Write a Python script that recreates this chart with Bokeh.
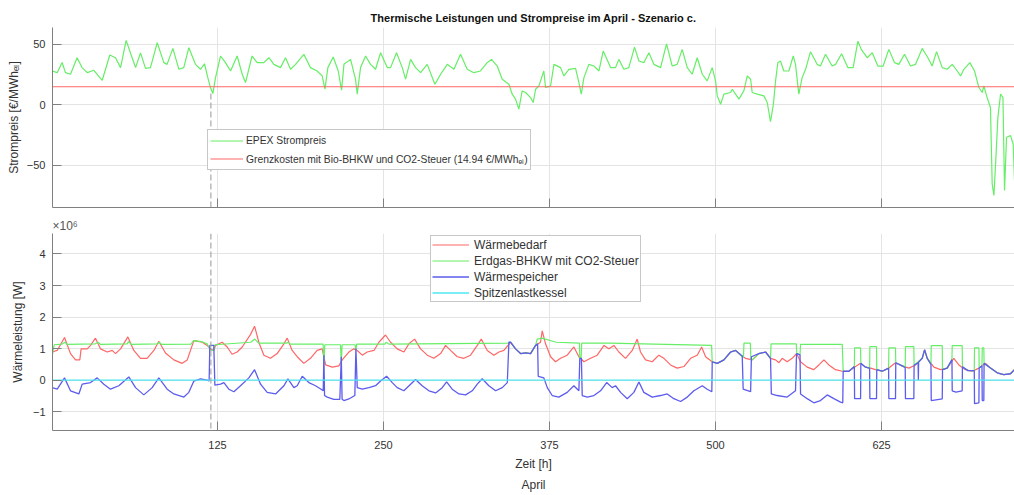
from bokeh.plotting import figure
from bokeh.models import (Range1d, FixedTicker, Legend, LegendItem, Span, Title,
                          CustomJSTickFormatter)
from bokeh.layouts import column
from bokeh.embed import file_html
from bokeh.resources import INLINE

FONT = "Liberation Sans"

# ---------------- data ----------------
title_text = "Thermische Leistungen und Strompreise im April - Szenario c."
x_ticks = [125, 250, 375, 500, 625]
price_ticks = [-50, 0, 50]
heat_ticks = [-1, 0, 1, 2, 3, 4]
marker_hour = 120
marker_top_value = 12
grenzkosten = 14.94

# EPEX spot price [EUR/MWh_el]
price_h = [0.5, 4.3, 8, 10.5, 14.3, 19.3, 23, 26.9, 31.9, 38.2, 43.9, 48.2, 52, 56.2, 60.7, 63.3, 67, 70.8,
           74.5, 79.6, 84.6, 87, 91.4, 95.9, 99.6, 103.4, 108.4, 112.2, 115.2, 117.7, 119.7, 121.5, 123.5,
           127.3, 131, 134.8, 139.8, 143.6, 146.1, 151, 154.9, 159.9, 163.7, 167.4, 172.4, 176.2, 180,
           183.8, 190, 195, 200, 203.8, 205.9, 208.1, 212.1, 215.9, 218.4, 220.2, 225.2, 228.9, 230.2,
           232.7, 236.5, 240.2, 244, 247.8, 252.8, 255.3, 259.8, 264.1, 266.6, 270.4, 274.1, 277.9, 282.9,
           288.7, 293, 298, 303, 308, 313, 318, 323, 328, 331.3, 335.6, 339.4, 344.4, 346.9, 349.4, 351.9,
           354.4, 357, 360.7, 362.7, 364.5, 367, 370.7, 372, 375.8, 378.3, 383.3, 385.8, 389.6, 394.6,
           397.1, 398.9, 400.9, 404.6, 408.4, 412.2, 415.4, 421, 424.7, 427.2, 431, 434.7, 439, 442.3,
           446, 449.8, 453.6, 458.6, 463.1, 467.4, 471.1, 474.9, 478.7, 482.4, 486.2, 490, 493.7, 497.5,
           500, 501.3, 503.8, 506.3, 511.3, 512.6, 517.6, 521.3, 523.9, 526.4, 527.6, 531.4, 536.4, 538.9,
           541.4, 543.6, 545.2, 546.9, 548.9, 551.4, 555.2, 558.5, 560.2, 562.7, 565.2, 567.8, 571.5,
           576.5, 579, 582.8, 587.8, 590.4, 594.9, 599.6, 603.6, 607.2, 609.7, 614.2, 618, 622.2, 626.2,
           630.5, 634.8, 638, 642.3, 646.8, 650.6, 655.6, 659.9, 663.1, 666.4, 670.7, 674.4, 678.2, 682,
           684.5, 687, 691.5, 695, 698.3, 700.8, 702, 704.5, 707, 708.3, 709.6, 710.8, 712.6, 714.6, 716.4,
           717.6, 719.1, 722.1, 724.1, 725.1]
price_val = [28, 26.6, 35, 26.6, 25.3, 39, 30.8, 26.6, 28.6, 20.3, 41.2, 39, 30.8, 53.3, 39, 30.8, 43, 30.2,
             30.8, 51.4, 34.9, 33.5, 46.7, 29.4, 30.8, 47.3, 33.5, 29.4, 34, 22.5, 14.3, 9.3, 22.5,
             40.4, 34.9, 28, 40.4, 25.3, 18.4, 40.4, 34.9, 34.9, 39, 33.5, 30.8, 39, 29.4,
             33.5, 41.8, 30.8, 28, 23.9, 12.9, 30.8, 39.6, 28, 12.1, 33.5, 37.6, 21.2, 8.8,
             30.8, 40.4, 33.5, 29.4, 43.1, 30.8, 30.8, 43.1, 30.8, 21.2, 37.6, 30.8, 26.6, 33.5,
             17, 25.3, 33.5, 29.4, 41.8, 29.4, 26.6, 28, 34.9, 37.6, 32.1, 21.2, 17, 8.8, 4.7, -3.6,
             11.5, 10.2, 6, 1.9, 12.9, 15.7, 28, 14.3, 15.7, 33.5, 30.8, 23.9, 29.4, 30.2,
             18.4, 8.8, 22.5, 33.5, 32.1, 28, 44.5, 30.8, 30.8, 37.6, 29.4, 30.8, 47.8, 36.3,
             34.9, 43.1, 33.5, 30.8, 50.5, 32.1, 33.5, 45.9, 30.8, 25.3, 39, 25.3, 19.8, 30.8,
             19.8, 7.4, 0.5, 8.8, 10.2, 12.9, 4.7, 11.5, 23.9, 21.2, 10.2, 8.8, 7.4, 1.9,
             -14, 1, 19.8, 34.9, 36.3, 28, 28, 40.4, 33.5, 8.8, 22.5, 29.4, 44,
             33.5, 32.1, 41.8, 32.1, 33.5, 42.3, 30.8, 30.8, 52.7, 45.9, 39, 43.1, 32.1, 32.1,
             45.9, 34.9, 33.5, 41.8, 32.1, 33.5, 46.7, 39, 32.1, 44, 30.8, 29.4, 33.5, 28,
             23.9, 29.4, 34.9, 28, 14.3, 10.2, 15.7, 6, -2.2, -65.4, -75, -50.3, -10.4, 8.8, 6,
             -70.9, -26.9, -25.5, -32.4, -62.6]

# heat demand [MW]
demand_h = [0, 0.5, 4.3, 9.8, 14.3, 18.1, 21.3, 22.3, 26.9, 29.4, 33.1, 36.9, 41.9, 45.7, 48.2, 52, 57.5,
            62, 67, 72, 77.1, 80.8, 85.8, 92.1, 98.4, 102.2, 107.2, 113.5, 117.2, 119.7, 122.2, 123.5,
            128.5, 132.3, 136, 139.8, 143.6, 149.9, 152.9, 156.1, 159.9, 164.9, 169.9, 175, 177.5, 181.2,
            185, 190, 195, 200, 203.8, 206.4, 211.4, 216.4, 218.9, 223.9, 227.7, 230.2, 234, 237.7, 242.8,
            246.5, 251.5, 255.3, 260.3, 265.3, 269.1, 273.4, 277.9, 282.9, 287.9, 293, 296.7, 300.5,
            305.5, 310.5, 315.5, 320.6, 323.6, 328.1, 333.1, 336.9, 340.6, 345.7, 349.4, 353.2, 357,
            360.7, 364.5, 368.2, 369.5, 372, 375.8, 379.5, 383.3, 388.3, 393.3, 397.1, 400.9, 405.9,
            410.9, 416, 419.7, 423.5, 427.2, 432.2, 437.3, 441, 443.5, 447.3, 452.3, 457.3, 461.1, 466.1,
            471.1, 476.2, 481.2, 486.2, 489.5, 492.5, 497.5, 501.3, 506.3, 511.3, 515.1, 518.8, 522.6,
            527.6, 532.6, 537.7, 541.4, 545.2, 547.7, 550.2, 553.9, 557.7, 561, 564, 569, 574, 577.8,
            581.6, 585.3, 590.3, 595.4, 600.4, 605.4, 609.2, 612.9, 616.7, 620.5, 625.5, 630.5, 635.5,
            640.5, 645.6, 650.6, 655.6, 657.4, 659.4, 664.4, 669.4, 674.4, 679.4, 683.2, 688.2, 693.3,
            698.3, 703.3, 707.1, 712.1, 717.1, 722.1, 725.1]
demand_mw = [2.17, 0.89, 0.94, 1.35, 0.84, 0.64, 0.64, 0.99, 0.99, 1.1, 1.33, 0.99, 0.89, 0.94, 0.84, 0.99, 1.37,
             0.94, 0.69, 0.69, 0.94, 1.23, 0.86, 0.64, 0.53, 0.64, 1.25, 1.2, 1.1, 0.99, 0.94, 1.1,
             1.2, 1.05, 0.82, 0.89, 1.05, 1.45, 1.71, 1.2, 0.79, 0.69, 0.84, 1.15, 1.33, 0.94,
             0.74, 0.53, 0.69, 0.94, 0.99, 0.48, 0.41, 0.45, 0.64, 0.89, 0.99, 0.94, 0.79, 0.89, 0.94,
             1.2, 1.43, 1.2, 0.99, 0.89, 1.15, 1.3, 0.99, 0.79, 0.69, 0.84, 1.1, 0.94,
             0.74, 0.69, 0.79, 1.1, 1.3, 0.94, 0.79, 0.89, 0.94, 1.2, 0.99, 0.84, 0.86,
             0.84, 1.1, 1.2, 1.56, 1.15, 0.74, 0.58, 0.69, 0.79, 1.05, 0.74, 0.58, 0.69,
             0.79, 1.1, 0.99, 1.1, 0.89, 0.69, 0.94, 1.3, 0.89, 0.64, 0.58, 0.79, 0.69, 0.48,
             0.38, 0.43, 0.69, 0.79, 1.05, 0.74, 0.58, 0.53, 0.64, 0.89, 0.94, 0.79, 0.69,
             0.64, 0.84, 0.89, 0.69, 0.64, 0.55, 0.69, 0.58, 0.69, 0.84, 0.58, 0.41, 0.33, 0.48,
             0.64, 0.48, 0.33, 0.28, 0.28, 0.43, 0.53, 0.41, 0.38, 0.33, 0.28, 0.38, 0.55,
             0.45, 0.38, 0.48, 0.69, 0.96, 0.69, 0.41, 0.33, 0.38, 0.69, 0.48, 0.33, 0.28,
             0.38, 0.53, 0.38, 0.23, 0.17, 0.2, 0.33]

# natural-gas CHP with CO2 tax [MW]
chp_h = [0, 2, 8, 10, 12, 33, 35, 37, 57, 58, 60, 80, 81, 83, 105, 107, 113, 117.2, 119, 120, 122.2, 123,
         150, 153, 156, 177, 178, 180, 204.5, 205.1, 205.8, 217.6, 218.2, 218.8, 228.6, 229.2, 229.8,
         251, 252, 254, 344, 344.4, 345.7, 349.4, 353.2, 357, 360.7, 364.5, 365.7, 369.5, 380, 397.5,
         397.8, 398.8, 399.2, 420, 497, 497.5, 501.3, 506.3, 511.3, 515.1, 518.8, 521, 521.4, 526.2,
         526.6, 527.6, 532.6, 537.7, 541.4, 541.8, 560.8, 561.2, 563.6, 564, 595.4, 596.1, 600.4,
         604.5, 604.7, 609.2, 609.4, 612.9, 616, 616.2, 621.2, 621.4, 625.5, 630.3, 630.5, 635.5, 635.7,
         640.5, 642.8, 643, 649.3, 649.5, 655.6, 657.4, 659.4, 662.2, 662.4, 670.7, 670.9, 674.4, 678,
         678.2, 685.7, 685.9, 690, 694.8, 695, 698.3, 698.5, 700.6, 700.8, 702, 702.2, 707, 712.1, 717.1,
         722.1, 725.1]
chp_mw = [0.64, 1.12, 1.14, 1.2, 1.13, 1.15, 1.2, 1.13, 1.15, 1.22, 1.13, 1.15, 1.2, 1.13, 1.14, 1.25, 1.22,
          1.15, 1.0, 0.95, 0.94, 1.12,
          1.2, 1.3, 1.17, 1.17, 1.2, 1.14, 1.14, 0.5, 1.12, 1.12, 0.5, 1.12, 1.12, 0.95, 1.14,
          1.14, 1.2, 1.14, 1.17, 1.2, 1.2, 0.99, 0.84, 0.86, 0.84, 1.1, 1.3, 1.33, 1.2, 1.17,
          0.7, 0.7, 1.17, 1.17, 1.1, 0.58, 0.53, 0.64, 0.89, 0.94, 0.79, 0.72, 1.17, 1.17,
          0.65, 0.64, 0.84, 0.89, 0.69, 1.15, 1.15, 0.84, 0.8, 1.13, 1.13, 0.28, 0.28,
          0.43, 1.02, 1.02, 0.53, 0.41, 0.38, 1.06, 1.06, 0.33, 0.28, 0.38, 1.02, 1.02, 0.55,
          0.45, 0.4, 1.06, 1.06, 0.47, 0.69, 0.96, 0.69, 0.5, 1.09, 1.09, 0.33, 0.38, 0.65,
          1.09, 1.09, 0.42, 0.3, 0.3, 1.02, 1.02, 0.38, 0.45, 1.02, 1.02, 0.53, 0.38, 0.23, 0.17,
          0.2, 0.33]

# heat storage [MW]  (negative = charging)
storage_h = [0.5, 4.3, 9.8, 14.3, 20.6, 23.1, 29.4, 34.4, 39.4, 44.4, 50.7, 58.2, 63.3, 69.5, 75.8, 80.8,
             87.1, 92.1, 99.7, 103.4, 107.2, 112.2, 117.2, 118.7, 119.2, 122.2, 123, 127.3, 129.8, 133.5,
             137.3, 142.3, 148.6, 152.9, 157.4, 162.4, 168.7, 175, 178, 182.5, 185, 188.8, 193.8, 198.8,
             203, 204.6, 205.1, 205.6, 207.6, 212.6, 217.1, 218.2, 218.8, 220.2, 223.9, 228.4, 229.2,
             230.2, 234, 239, 244, 247.8, 252.3, 256.6, 260.3, 265.3, 270.4, 274.1, 279.1, 284.2, 289.2,
             294.2, 297.5, 301.7, 306.8, 311.8, 316.8, 320.6, 324.3, 329.3, 334.4, 339.4, 343.2, 344.4,
             345.7, 349.4, 353.2, 357, 360.7, 364.5, 366, 366.5, 370.7, 373.3, 377, 382, 388.3, 393.3,
             397.1, 397.8, 399, 399.6, 403.4, 408.4, 413.4, 418, 422.2, 424.7, 428.5, 433.5, 438.5, 442.3,
             446, 452.3, 458.6, 463.6, 468.6, 473.7, 478.7, 483.7, 490, 493.7, 497.2, 497.5, 501.3, 506.3,
             511.3, 515.1, 520.1, 520.8, 526.4, 527, 532.6, 537.7, 541.4, 542, 546.4, 553.9, 560.2, 561,
             563.6, 564, 569, 574, 579, 584.1, 589.1, 594.1, 595.8, 596.1, 600.4, 604.5, 604.7, 609.2,
             609.4, 612.9, 616, 616.2, 621.2, 621.4, 625.5, 630.3, 630.5, 635.5, 635.7, 640.5, 642.8, 643,
             649.3, 649.5, 652.5, 652.7, 652.9, 655.6, 657.4, 659.4, 662.2, 662.4, 670.7, 670.9, 674.4, 678,
             678.2, 681, 685.7, 685.9, 690, 694.8, 695, 698.3, 698.5, 700.6, 700.8, 702, 702.2, 707, 712.1,
             717.1, 722.1, 725.1]
storage_mw = [-0.24, -0.29, 0.07, -0.34, -0.44, -0.13, -0.08, 0.07, -0.13, -0.29, -0.18, 0.1, -0.24, -0.47,
              -0.24, 0.07,
              -0.29, -0.44, -0.54, -0.39, -0.03, 0.04, 0, -0.03, 1.1, 1.1, -0.16, -0.13, -0.08, -0.29,
              -0.37, -0.18, 0.07, 0.33, -0.13, -0.39, -0.44, -0.18, 0.04, -0.24, -0.18, 0.12, -0.08, -0.18,
              -0.29, -0.34, 0.79, -0.49, -0.54, -0.61, -0.61, 0.74, -0.61, -0.65, -0.6, -0.49, 1.0,
              -0.24, -0.29, -0.24, -0.18, -0.03, 0.12, -0.08, -0.24, -0.34, -0.13, 0.02, -0.18, -0.34,
              -0.41,
              -0.24, -0.06, -0.29, -0.44, -0.47, -0.34, -0.13, 0.04, -0.18, -0.34, -0.24, -0.08, 1.2,
              1.2, 0.99, 0.84, 0.86, 0.84, 1.1, 1.15, 0.12, 0.07, -0.24, -0.49, -0.54, -0.39, -0.18,
              -0.34, 0.69, 0.69, -0.49, -0.54, -0.49, -0.34, -0.08, -0.24, -0.18, -0.39, -0.59, -0.39,
              -0.06,
              -0.39, -0.54, -0.49, -0.44, -0.59, -0.68, -0.54, -0.34, -0.18, -0.29, -0.37, 0.58, 0.53, 0.64,
              0.89, 0.94, 0.76, -0.29, -0.37, 0.74, 0.84, 0.89, 0.69, -0.44, -0.49, -0.54, -0.34, 0.84,
              0.8, -0.44, -0.59, -0.72, -0.65, -0.47, -0.59, -0.7, -0.72, 0.28, 0.28, 0.43, -0.59, -0.59,
              0.53, 0.41, 0.38, -0.59, -0.59, 0.33, 0.28, 0.38, -0.59, -0.59, 0.55, 0.45, 0.4, -0.59,
              -0.59, 0.47, 0.55, 0.0, 0.57, 0.69, 0.96, 0.69, 0.5, -0.65, -0.6, 0.33, 0.38, 0.65,
              -0.34, -0.38, -0.34, 0.42, 0.3, 0.3, -0.75, -0.72, 0.38, 0.45, -0.65, -0.65, 0.53, 0.38, 0.23,
              0.17, 0.2, 0.33]

# peak-load boiler [MW]
boiler_h = [0, 0.5, 725]
boiler_mw = [0.28, 0, 0]

# ---------------- styling ----------------
GREEN = "#66ee66"
RED = "#ff6666"
BLUE = "#5c5cee"
CYAN = "#4ee8f0"
GRID = "#e4e4e4"
AXIS = "#808080"
TXT = "#333333"

x_range = Range1d(0.75, 725.1)


def style(p, yticks):
    p.outline_line_color = None
    p.background_fill_color = "white"
    p.border_fill_color = "white"
    for ax in (p.xaxis, p.yaxis):
        ax.axis_line_color = AXIS
        ax.major_tick_line_color = AXIS
        ax.major_tick_in = 9
        ax.major_tick_out = 0
        ax.minor_tick_line_color = None
        ax.major_label_text_font = FONT
        ax.major_label_text_font_size = "11px"
        ax.major_label_text_color = TXT
        ax.axis_label_text_font = FONT
        ax.axis_label_text_font_size = "12px"
        ax.axis_label_text_font_style = "normal"
        ax.axis_label_text_color = TXT
    p.xaxis.ticker = FixedTicker(ticks=x_ticks)
    p.yaxis.ticker = FixedTicker(ticks=yticks)
    p.xgrid.ticker = FixedTicker(ticks=x_ticks)
    p.ygrid.ticker = FixedTicker(ticks=yticks)
    p.grid.grid_line_color = GRID
    p.grid.grid_line_width = 1


# ---------------- top: electricity price ----------------
top = figure(width=1014, height=215, x_range=x_range, y_range=Range1d(-85, 64),
             output_backend="svg", toolbar_location=None,
             min_border_left=52, min_border_right=0, min_border_top=27, min_border_bottom=8)
style(top, price_ticks)
top.title.text = title_text
top.title.align = "center"
top.title.text_font = FONT
top.title.text_font_size = "11px"
top.title.text_font_style = "bold"
top.title.text_color = "#111111"
top.title.standoff = 8
top.yaxis.axis_label = "Strompreis [€/MWhₑₗ]"
top.yaxis.major_label_standoff = 7
top.yaxis.axis_label_standoff = 3
top.xaxis.formatter = CustomJSTickFormatter(code="return ''")
top.xaxis.major_label_text_font_size = "1px"
top.xaxis.major_label_standoff = 0

r_price = top.line(price_h, price_val, line_color=GREEN, line_width=1.2)
r_limit = top.line([price_h[0], price_h[-1]], [grenzkosten, grenzkosten], line_color=RED, line_width=1.2)
top.segment(x0=[marker_hour], y0=[top.y_range.start], x1=[marker_hour], y1=[marker_top_value],
            line_color="#a8a8a8", line_dash="6 3", line_width=1.2)

leg_top = Legend(items=[LegendItem(label="EPEX Strompreis", renderers=[r_price]),
                        LegendItem(label="Grenzkosten mit Bio-BHKW und CO2-Steuer (14.94 €/MWhₑₗ)",
                                   renderers=[r_limit])],
                 location=(155, 37), label_text_font=FONT, label_text_font_size="10.3px",
                 label_text_color=TXT, glyph_width=33, glyph_height=17, label_height=17, spacing=1,
                 padding=2, margin=0, label_standoff=3, border_line_color="#909090",
                 background_fill_color="white", background_fill_alpha=1)
top.add_layout(leg_top)

# ---------------- bottom: heat ----------------
bot = figure(width=1014, height=279, x_range=x_range, y_range=Range1d(-1.6, 4.65),
             output_backend="svg", toolbar_location=None,
             min_border_left=52, min_border_right=0, min_border_top=15, min_border_bottom=61,
             title="×10⁶")
style(bot, heat_ticks)
bot.title.align = "left"
bot.title.text_font = FONT
bot.title.text_font_size = "12px"
bot.title.text_font_style = "normal"
bot.title.text_color = "#555555"
bot.title.standoff = 2
bot.yaxis.axis_label = "Wärmeleistung [W]"
bot.yaxis.major_label_standoff = 7
bot.yaxis.axis_label_standoff = 5
bot.xaxis.axis_label = "Zeit [h]"
bot.xaxis.axis_label_standoff = 5
bot.xaxis.major_label_standoff = 10
bot.add_layout(Title(text="April", align="center", text_font=FONT, text_font_size="12px",
                     text_font_style="normal", text_color=TXT, standoff=5), "below")

r_dem = bot.line(demand_h, demand_mw, line_color=RED, line_width=1.2)
r_chp = bot.line(chp_h, chp_mw, line_color=GREEN, line_width=1.2)
r_sto = bot.line(storage_h, storage_mw, line_color=BLUE, line_width=1.3)
r_boi = bot.line(boiler_h, boiler_mw, line_color=CYAN, line_width=1.3)
bot.add_layout(Span(location=marker_hour, dimension="height", line_color="#a8a8a8",
                    line_dash="6 3", line_width=1.2))

leg_bot = Legend(items=[LegendItem(label="Wärmebedarf", renderers=[r_dem]),
                        LegendItem(label="Erdgas-BHKW mit CO2-Steuer", renderers=[r_chp]),
                        LegendItem(label="Wärmespeicher", renderers=[r_sto]),
                        LegendItem(label="Spitzenlastkessel", renderers=[r_boi])],
                 location=(378, 128), label_text_font=FONT, label_text_font_size="12px",
                 label_text_color=TXT, glyph_width=37, glyph_height=15, label_height=15, spacing=1,
                 padding=1, margin=0, label_standoff=5, border_line_color="#909090",
                 background_fill_color="white", background_fill_alpha=1)
bot.add_layout(leg_bot)

layout = column(top, bot, spacing=0)
open("out.html", "w").write(file_html(layout, INLINE))
